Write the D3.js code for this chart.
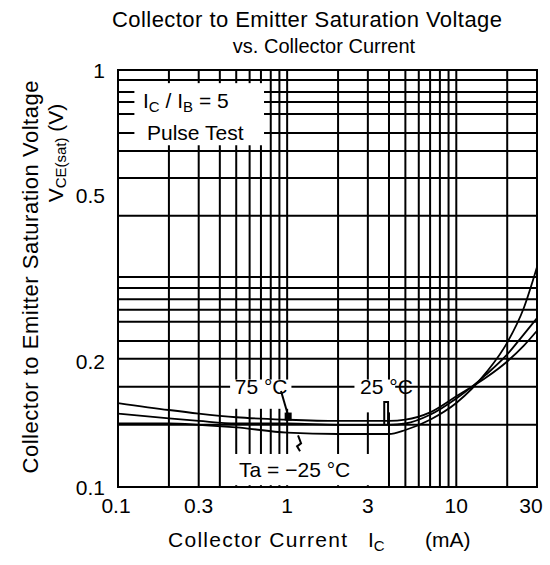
<!DOCTYPE html>
<html><head><meta charset="utf-8">
<script src="https://cdn.jsdelivr.net/npm/d3@7"></script>
<style>body{margin:0;background:#fff}svg{display:block}text{font-family:Arial,"Liberation Sans",Helvetica,sans-serif;fill:#000}</style>
</head><body><svg id="c" width="550" height="565"></svg>
<script>
// ---- data ----
const xTicks = [0.1, 0.3, 1, 3, 10, 30];
const xTickLabels = ["0.1", "0.3", "1", "3", "10", "30"];
const yTicks = [0.1, 0.2, 0.5, 1];
const yTickLabels = ["0.1", "0.2", "0.5", "1"];
const xGrid = [0.1,0.2,0.3,0.4,0.5,0.6,0.7,0.8,0.9,1,2,3,4,5,6,7,8,9,10,20,30];
const yGrid = [1,0.946,0.886,0.838,0.784,0.706,0.639,0.551,0.447,0.319,0.300,0.282,0.266,0.249,0.224,0.203,0.174,0.141,0.1];
const ic = [0.1,0.2,0.3,0.5,1,2,3,4,5,7,10,15,20,25,30];
const v75 = [0.159,0.153,0.150,0.147,0.145,0.144,0.144,0.144,0.145,0.151,0.165,0.183,0.200,0.218,0.237];
const v25 = [0.150,0.146,0.144,0.142,0.142,0.141,0.141,0.141,0.142,0.149,0.163,0.186,0.208,0.232,0.254];
const vm25 = [0.142,0.142,0.141,0.139,0.135,0.134,0.134,0.134,0.137,0.145,0.159,0.188,0.222,0.268,0.337];
const series = [{name:"75 °C", v:v75},{name:"25 °C", v:v25},{name:"-25 °C", v:vm25}];

const svg = d3.select("#c");
const L=118, R=537, T=70, B=487;
const x = d3.scaleLog().domain([0.1,30]).range([L,R]);
const y = d3.scaleLog().domain([0.1,1]).range([B,T]);

// grid
const g = svg.append("g").attr("stroke","#000").attr("stroke-width",2);
g.selectAll(".vx").data(xGrid).join("line")
  .attr("x1",d=>x(d)).attr("x2",d=>x(d)).attr("y1",T).attr("y2",B);
g.selectAll(".hy").data(yGrid).join("line")
  .attr("x1",L).attr("x2",R).attr("y1",d=>y(d)).attr("y2",d=>y(d));

// white label boxes covering grid
const boxes = [
  {x0:0.125, x1:0.73, y0:0.93, y1:0.66},   // legend box
  {x0:0.46, x1:1.06, y0:0.181, y1:0.154},  // 75 °C
  {x0:2.5,  x1:4.35, y0:0.181, y1:0.151},  // 25 °C
  {x0:0.46, x1:3.7,  y0:0.120, y1:0.101}   // Ta = -25 °C
];
svg.selectAll(".box").data(boxes).join("rect")
  .attr("x",d=>x(d.x0)).attr("width",d=>x(d.x1)-x(d.x0))
  .attr("y",d=>y(d.y0)).attr("height",d=>y(d.y1)-y(d.y0))
  .attr("fill","#fff");

// frame
svg.append("rect").attr("x",L).attr("y",T).attr("width",R-L).attr("height",B-T)
  .attr("fill","none").attr("stroke","#000").attr("stroke-width",2);

// curves
const line = d3.line().x((d,i)=>x(ic[i])).y(d=>y(d)).curve(d3.curveMonotoneX);
svg.selectAll(".curve").data(series).join("path")
  .attr("d",d=>line(d.v)).attr("fill","none").attr("stroke","#000").attr("stroke-width",1.8);

// leaders
const lead = svg.append("g").attr("stroke","#000").attr("stroke-width",2).attr("fill","none");
lead.append("line").attr("x1",x(0.92)).attr("y1",y(0.170)).attr("x2",x(1.02)).attr("y2",y(0.147));
lead.append("rect").attr("x",x(0.98)).attr("y",y(0.150)).attr("width",5).attr("height",6).attr("fill","#000");
lead.append("path").attr("d",`M${x(3.75)},${y(0.141)} V${y(0.160)} H${x(3.95)} V${y(0.141)}`);
lead.append("path").attr("d",`M${x(1.16)},${y(0.133)} l3,8 l-4,3 l3,5`);

// axis tick labels
svg.selectAll(".xt").data(xTicks).join("text")
  .attr("x",d=>x(d)).attr("y",513).attr("text-anchor","middle").attr("font-size",21)
  .attr("dx",(d,i)=>i===0?-2:(i===xTicks.length-1?-6:0))
  .text((d,i)=>xTickLabels[i]);
svg.selectAll(".yt").data(yTicks).join("text")
  .attr("x",105).attr("y",d=>y(d)).attr("dy","0.36em").attr("text-anchor","end").attr("font-size",21)
  .text((d,i)=>yTickLabels[i]);

// titles
svg.append("text").attr("x",307).attr("y",27).attr("text-anchor","middle").attr("font-size",22)
  .attr("textLength",390).attr("lengthAdjust","spacing").text("Collector to Emitter Saturation Voltage");
svg.append("text").attr("x",324).attr("y",53).attr("text-anchor","middle").attr("font-size",20)
  .text("vs. Collector Current");

// x axis title
const xt = svg.append("text").attr("y",547).attr("font-size",21);
xt.append("tspan").attr("x",168).attr("textLength",179).attr("lengthAdjust","spacing").text("Collector Current");
xt.append("tspan").attr("x",368).text("I");
xt.append("tspan").attr("font-size",15).attr("dy",4).text("C");
xt.append("tspan").attr("x",425).attr("dy",-4).text("(mA)");

// y axis title
svg.append("text").attr("transform","translate(38,277) rotate(-90)").attr("text-anchor","middle")
  .attr("font-size",22).attr("textLength",393).attr("lengthAdjust","spacing")
  .text("Collector to Emitter Saturation Voltage");
const yt2 = svg.append("text").attr("transform","translate(63,153) rotate(-90)").attr("text-anchor","middle").attr("font-size",21);
yt2.append("tspan").text("V");
yt2.append("tspan").attr("font-size",15).attr("dy",3).text("CE(sat)");
yt2.append("tspan").attr("dy",-3).text(" (V)");

// legend text
const lg = svg.append("text").attr("x",143).attr("y",108).attr("font-size",21);
lg.append("tspan").text("I");
lg.append("tspan").attr("font-size",15).attr("dy",4).text("C");
lg.append("tspan").attr("dy",-4).text(" / I");
lg.append("tspan").attr("font-size",15).attr("dy",4).text("B");
lg.append("tspan").attr("dy",-4).text(" = 5");
svg.append("text").attr("x",147).attr("y",140).attr("font-size",21).text("Pulse Test");

// curve labels
svg.append("text").attr("x",x(0.49)).attr("y",y(0.174)).attr("dy","0.36em").attr("font-size",21).text("75 °C");
svg.append("text").attr("x",x(2.7)).attr("y",y(0.174)).attr("dy","0.36em").attr("font-size",21).text("25 °C");
svg.append("text").attr("x",x(0.52)).attr("y",y(0.11)).attr("dy","0.36em").attr("font-size",21).text("Ta = \u221225 °C");
</script></body></html>
